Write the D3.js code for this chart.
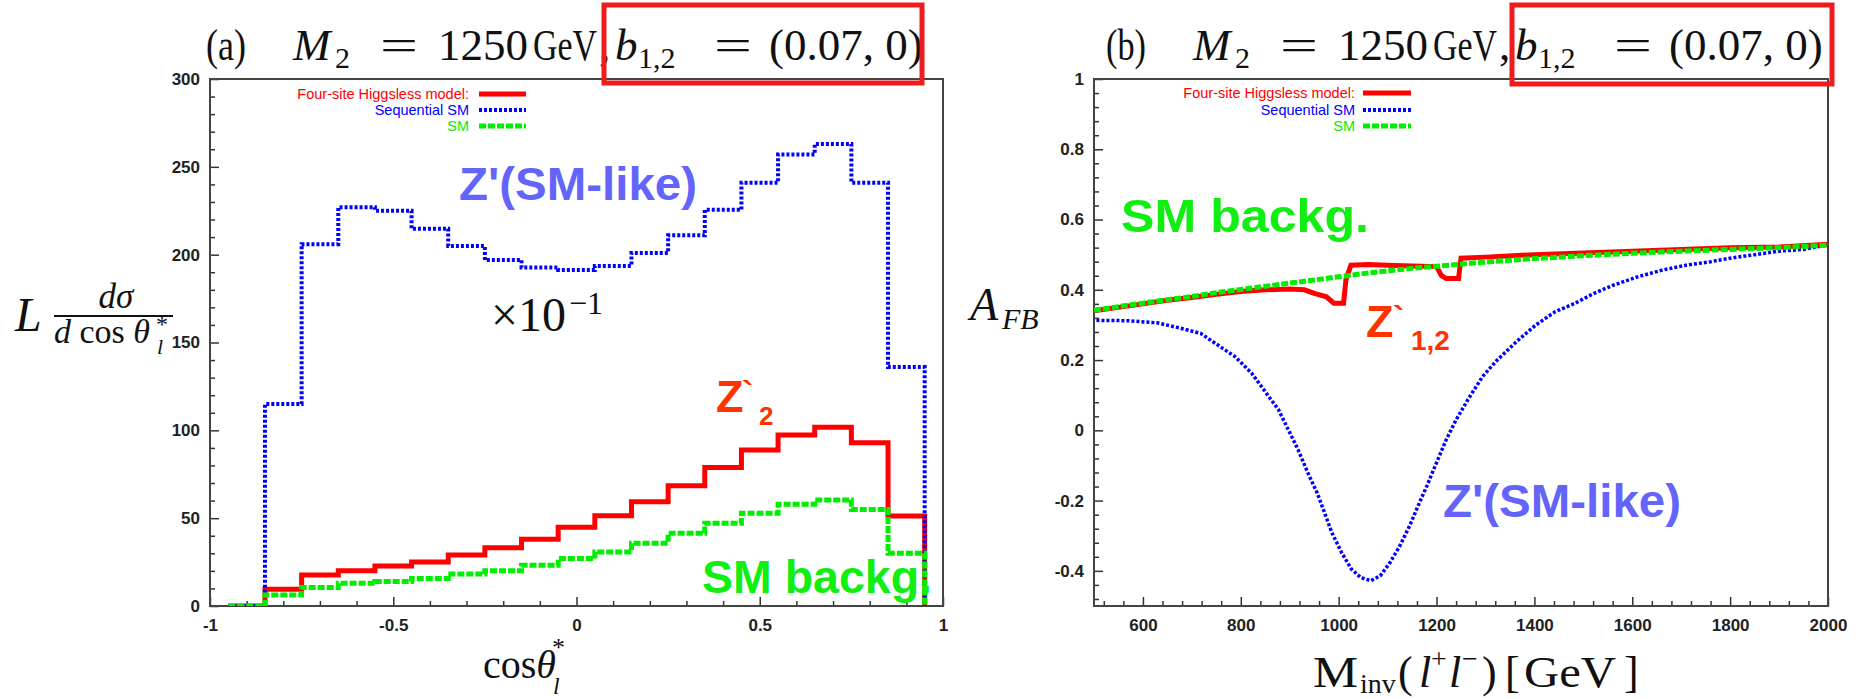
<!DOCTYPE html>
<html><head><meta charset="utf-8">
<script src="https://cdn.jsdelivr.net/npm/d3@7"></script>
<style>body{margin:0;background:#fff;} svg{display:block;}</style>
</head><body>
<svg id="c" width="1858" height="699"></svg>
<script>
// ---------------- DATA ----------------
// Panel (a): histogram in cos(theta*), bin edges and contents
const cosEdges = [-0.95,-0.85,-0.75,-0.65,-0.55,-0.45,-0.35,-0.25,-0.15,-0.05,0.05,0.15,0.25,0.35,0.45,0.55,0.65,0.75,0.85,0.95];
const higgslessCos = [0, 9.5, 17.6, 20.1, 22.8, 25.0, 29.0, 33.2, 38.0, 44.8, 51.4, 59.4, 68.5, 78.8, 88.8, 97.4, 101.8, 93.0, 51.2];
const seqSMCos     = [0, 115, 206, 227, 225, 214.7, 205, 197, 192.7, 191.3, 193.6, 201, 211, 225.5, 241, 257, 263, 241, 136];
const smCos        = [0, 6.3, 10.6, 12.9, 14.0, 15.7, 18.2, 20.1, 23.2, 27.0, 30.8, 35.7, 41.4, 47.1, 52.8, 57.9, 60.4, 55.0, 30.0];

// Panel (b): forward-backward asymmetry vs invariant mass
const smMass = [500,550,600,650,700,750,800,850,900,950,1000,1050,1100,1150,1200,1250,1300,1400,1500,1600,1700,1800,1900,2000];
const smAFB  = [0.342,0.352,0.362,0.372,0.381,0.392,0.401,0.41,0.419,0.428,0.437,0.446,0.454,0.461,0.467,0.473,0.479,0.489,0.497,0.504,0.51,0.515,0.52,0.527];

const higgslessMass = [500,550,600,650,700,750,800,850,900,930,950,975,990,1010,1015,1025,1060,1100,1150,1200,1210,1220,1245,1250,1300,1400,1500,1600,1700,1800,1900,2000];
const higgslessAFB  = [0.34,0.35,0.36,0.37,0.378,0.387,0.395,0.4,0.402,0.4,0.39,0.38,0.362,0.362,0.43,0.47,0.472,0.47,0.468,0.466,0.44,0.432,0.432,0.49,0.493,0.5,0.505,0.51,0.515,0.52,0.522,0.53];

const seqSMMass = [505,570,629,679,718,758,788,822,852,877,897,917,937,956,971,986,1006,1026,1045,1066,1085,1105,1125,1145,1165,1180,1200,1220,1240,1264,1294,1324,1363,1403,1443,1482,1522,1561,1611,1661,1710,1760,1800,1850,1900,1950,2000];
const seqSMAFB  = [0.313,0.312,0.306,0.29,0.276,0.238,0.21,0.163,0.106,0.059,0.002,-0.055,-0.121,-0.178,-0.234,-0.291,-0.348,-0.395,-0.419,-0.428,-0.414,-0.376,-0.329,-0.272,-0.206,-0.159,-0.092,-0.026,0.03,0.087,0.153,0.2,0.252,0.3,0.338,0.361,0.39,0.413,0.437,0.456,0.47,0.48,0.49,0.5,0.51,0.515,0.528];

// ticks
const aXTicks = [-1,-0.5,0,0.5,1];
const aXLabels = ["-1","-0.5","0","0.5","1"];
const aYTicks = [0,50,100,150,200,250,300];
const bXTicks = [600,800,1000,1200,1400,1600,1800,2000];
const bYTicks = [-0.4,-0.2,0,0.2,0.4,0.6,0.8,1];
const bYLabels = ["-0.4","-0.2","0","0.2","0.4","0.6","0.8","1"];

const legendNames = ["Four-site Higgsless model:","Sequential SM","SM"];

// ---------------- STYLE ----------------
const RED = "#ff0000", BLUE = "#0000ff", GREEN = "#00ee00";
const styles = [
  {color: RED,  width: 5, dash: null},
  {color: BLUE, width: 4, dash: "3,2"},
  {color: GREEN,width: 5, dash: "7,2"}
];
const svg = d3.select("#c");
const tickFont = "'Liberation Sans Narrow','Liberation Sans',Arial,sans-serif";
const serif = "'Liberation Serif','DejaVu Serif',serif";
const sans = "'Liberation Sans',Arial,sans-serif";

function frameAndAxes(x, y, xt, xl, xminor, yt, yl, yminor, id) {
  const [x0,x1] = x.range(); const [y0,y1] = y.range();
  svg.append("defs").append("clipPath").attr("id", id)
     .append("rect").attr("x", x0).attr("y", y1).attr("width", x1-x0).attr("height", y0-y1);
  const gx = svg.append("g").attr("transform", `translate(0,${y0})`)
     .call(d3.axisBottom(x).tickValues(xt).tickSize(-9).tickPadding(13).tickFormat((d,i)=>xl[i]));
  const gxm = svg.append("g").attr("transform", `translate(0,${y0})`)
     .call(d3.axisBottom(x).tickValues(xminor).tickSize(-5).tickFormat(""));
  const gy = svg.append("g").attr("transform", `translate(${x0},0)`)
     .call(d3.axisLeft(y).tickValues(yt).tickSize(-9).tickPadding(10).tickFormat((d,i)=>yl[i]));
  const gym = svg.append("g").attr("transform", `translate(${x0},0)`)
     .call(d3.axisLeft(y).tickValues(yminor).tickSize(-5).tickFormat(""));
  [gx,gxm,gy,gym].forEach(g => {
    g.select(".domain").remove();
    g.selectAll("line").attr("stroke","#333").attr("stroke-width",1.5);
    g.selectAll("text").attr("font-family", tickFont).attr("font-size", 17)
      .attr("font-weight","bold").attr("fill","#222");
  });
  svg.append("rect").attr("x",x0).attr("y",y1).attr("width",x1-x0).attr("height",y0-y1)
     .attr("fill","none").attr("stroke","#444").attr("stroke-width",2);
}

function legend(xTextRight, xl0, xl1, ys) {
  legendNames.forEach((n,i)=>{
    svg.append("text").attr("x", xTextRight).attr("y", ys[i]).attr("text-anchor","end")
      .attr("dominant-baseline","central").attr("font-family", sans).attr("font-size", 14.5)
      .attr("fill", styles[i].color).text(n);
    svg.append("line").attr("x1",xl0).attr("x2",xl1).attr("y1",ys[i]).attr("y2",ys[i])
      .attr("stroke", styles[i].color).attr("stroke-width", styles[i].width)
      .attr("stroke-dasharray", styles[i].dash);
  });
}

function title(dx, lab) {
  const g = svg.append("g").attr("transform",`translate(${dx},0)`)
    .attr("font-family", serif).attr("fill","#111");
  const pieces = [
    {t:lab, x:206, w:40, s:45, y:60},
    {t:"M", x:293, s:45, y:60, it:true},
    {t:"2", x:335, s:30, y:68},
    {t:"=", x:380, w:38, s:45, y:60},
    {t:"1250", x:438, s:45, y:60},
    {t:"GeV", x:533, w:64, s:45, y:60},
    {t:",", x:599, s:45, y:60},
    {t:"b", x:615, s:45, y:60, it:true},
    {t:"1,2", x:638, s:30, y:68},
    {t:"=", x:714, w:38, s:45, y:60},
    {t:"(0.07, 0)", x:769, s:45, y:60}
  ];
  pieces.forEach(p=>{
    const t = g.append("text").attr("x",p.x).attr("y",p.y).attr("font-size",p.s)
      .attr("font-style", p.it ? "italic" : "normal").text(p.t);
    if (p.w) t.attr("textLength", p.w).attr("lengthAdjust","spacingAndGlyphs");
  });
}

// ---------------- PANEL (a) ----------------
const xa = d3.scaleLinear().domain([-1,1]).range([210,943]);
const ya = d3.scaleLinear().domain([0,300]).range([606,79]);
frameAndAxes(xa, ya, aXTicks, aXLabels,
  d3.range(-10,11).map(d=>d/10).filter(d=>Math.abs(d*2-Math.round(d*2))>1e-6),
  aYTicks, aYTicks.map(String), d3.range(0,301,10).filter(d=>d%50!==0), "clipA");

function histPts(edges, vals) {
  const p = [[edges[0],0]];
  vals.forEach((v,i)=>{ p.push([edges[i],v]); p.push([edges[i+1],v]); });
  p.push([edges[edges.length-1],0]);
  return p;
}
const lineA = d3.line().x(d=>xa(d[0])).y(d=>ya(d[1]));
const gA = svg.append("g").attr("clip-path","url(#clipA)");
[[higgslessCos,0],[seqSMCos,1],[smCos,2]].forEach(([vals,i])=>{
  gA.append("path").attr("d", lineA(histPts(cosEdges, vals))).attr("fill","none")
    .attr("stroke", styles[i].color).attr("stroke-width", styles[i].width)
    .attr("stroke-dasharray", styles[i].dash).attr("stroke-linejoin","miter");
});
legend(469, 479, 526, [94,110,126]);

// annotations (a)
svg.append("text").attr("x",459).attr("y",200).attr("font-family",sans).attr("font-weight","bold")
  .attr("font-size",46).attr("fill","#6464fa").attr("textLength",238).attr("lengthAdjust","spacingAndGlyphs").text("Z'(SM-like)");
const tx = svg.append("g").attr("font-family",serif).attr("fill","#111");
tx.append("text").attr("x",491).attr("y",331).attr("font-size",48).text("×10");
tx.append("text").attr("x",569).attr("y",314).attr("font-size",32).text("−1");
const zA = svg.append("g").attr("font-family",sans).attr("font-weight","bold").attr("fill","#ff3300");
zA.append("text").attr("x",716).attr("y",412).attr("font-size",45).text("Z");
zA.append("text").attr("x",742).attr("y",404).attr("font-size",34).text("`");
zA.append("text").attr("x",759).attr("y",425).attr("font-size",26).text("2");
svg.append("text").attr("x",702).attr("y",593).attr("font-family",sans).attr("font-weight","bold")
  .attr("font-size",46).attr("fill","#11ee11").attr("textLength",230).attr("lengthAdjust","spacingAndGlyphs").text("SM backg.");

// axis titles (a)
const xtA = svg.append("text").attr("x",483).attr("y",678).attr("font-family",serif).attr("font-size",40).attr("fill","#111");
xtA.append("tspan").text("cos");
xtA.append("tspan").attr("font-style","italic").text("θ");
svg.append("text").attr("x",552).attr("y",656).attr("font-family",serif).attr("font-size",26).attr("fill","#111").text("*");
svg.append("text").attr("x",553).attr("y",694).attr("font-family",serif).attr("font-style","italic").attr("font-size",24).attr("fill","#111").text("l");

const yl = svg.append("g").attr("font-family",serif).attr("fill","#111");
yl.append("text").attr("x",15).attr("y",331).attr("font-size",48).attr("font-style","italic").text("L");
yl.append("text").attr("x",116).attr("y",308).attr("text-anchor","middle").attr("font-size",35).attr("font-style","italic").text("dσ");
yl.append("line").attr("x1",54).attr("x2",173).attr("y1",316).attr("y2",316).attr("stroke","#111").attr("stroke-width",2);
const den = yl.append("text").attr("x",54).attr("y",343).attr("font-size",34);
den.append("tspan").attr("font-style","italic").text("d");
den.append("tspan").text(" cos ");
den.append("tspan").attr("font-style","italic").text("θ");
yl.append("text").attr("x",156).attr("y",332).attr("font-size",24).text("*");
yl.append("text").attr("x",157).attr("y",354).attr("font-size",22).attr("font-style","italic").text("l");

// ---------------- PANEL (b) ----------------
const xb = d3.scaleLinear().domain([500,2000]).range([1094,1828]);
const yb = d3.scaleLinear().domain([-0.5,1]).range([606,79]);
frameAndAxes(xb, yb, bXTicks, bXTicks.map(String),
  d3.range(520,2000,40).filter(d=>(d%200)!==0),
  bYTicks, bYLabels, d3.range(-48,100,4).map(d=>d/100).filter(d=>Math.abs(d*5-Math.round(d*5))>1e-6), "clipB");
const lineB = d3.line().x(d=>xb(d[0])).y(d=>yb(d[1]));
const gB = svg.append("g").attr("clip-path","url(#clipB)");
const seriesB = [
  [seqSMMass, seqSMAFB, 1, 3.5],
  [higgslessMass, higgslessAFB, 0, 5],
  [smMass, smAFB, 2, 5]
];
seriesB.forEach(([m,a,i,w])=>{
  gB.append("path").attr("d", lineB(m.map((v,k)=>[v,a[k]]))).attr("fill","none")
    .attr("stroke", styles[i].color).attr("stroke-width", w)
    .attr("stroke-dasharray", styles[i].dash);
});
legend(1355, 1363, 1411, [93,110,126]);

svg.append("text").attr("x",1121).attr("y",232).attr("font-family",sans).attr("font-weight","bold")
  .attr("font-size",47).attr("fill","#11ee11").attr("textLength",248).attr("lengthAdjust","spacingAndGlyphs").text("SM backg.");
const zB = svg.append("g").attr("font-family",sans).attr("font-weight","bold").attr("fill","#ff3300");
zB.append("text").attr("x",1366).attr("y",337).attr("font-size",45).text("Z");
zB.append("text").attr("x",1393).attr("y",329).attr("font-size",34).text("`");
zB.append("text").attr("x",1411).attr("y",350).attr("font-size",28).text("1,2");
svg.append("text").attr("x",1443).attr("y",517).attr("font-family",sans).attr("font-weight","bold")
  .attr("font-size",46).attr("fill","#6464fa").attr("textLength",238).attr("lengthAdjust","spacingAndGlyphs").text("Z'(SM-like)");

// axis titles (b)
const xtB = svg.append("g").attr("font-family",serif).attr("fill","#111");
xtB.append("text").attr("x",1313).attr("y",687).attr("font-size",44).attr("textLength",45).attr("lengthAdjust","spacingAndGlyphs").text("M");
xtB.append("text").attr("x",1360).attr("y",693).attr("font-size",28).text("inv");
xtB.append("text").attr("x",1398).attr("y",687).attr("font-size",44).text("(");
xtB.append("text").attr("x",1419).attr("y",687).attr("font-size",44).attr("font-style","italic").text("l");
xtB.append("text").attr("x",1431).attr("y",668).attr("font-size",28).text("+");
xtB.append("text").attr("x",1449).attr("y",687).attr("font-size",44).attr("font-style","italic").text("l");
xtB.append("text").attr("x",1462).attr("y",668).attr("font-size",28).text("−");
xtB.append("text").attr("x",1482).attr("y",687).attr("font-size",44).text(")");
xtB.append("text").attr("x",1505).attr("y",687).attr("font-size",44).text("[");
xtB.append("text").attr("x",1524).attr("y",687).attr("font-size",44).attr("textLength",92).attr("lengthAdjust","spacingAndGlyphs").text("GeV");
xtB.append("text").attr("x",1624).attr("y",687).attr("font-size",44).text("]");

const ylB = svg.append("g").attr("font-family",serif).attr("fill","#111").attr("font-style","italic");
ylB.append("text").attr("x",970).attr("y",320).attr("font-size",46).text("A");
ylB.append("text").attr("x",1002).attr("y",329).attr("font-size",30).text("FB");

// titles
title(0, "(a)");
title(900, "(b)");

// red highlight boxes
svg.append("rect").attr("x",604).attr("y",5).attr("width",318).attr("height",78)
  .attr("fill","none").attr("stroke","#ee1c1c").attr("stroke-width",5);
svg.append("rect").attr("x",1512).attr("y",5).attr("width",320).attr("height",79)
  .attr("fill","none").attr("stroke","#ee1c1c").attr("stroke-width",5);
</script>
</body></html>
